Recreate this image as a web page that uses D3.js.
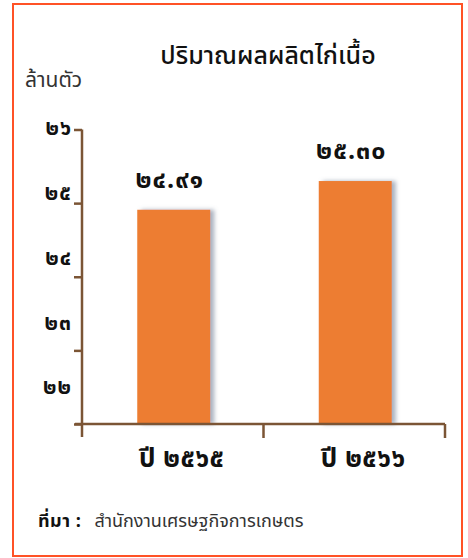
<!DOCTYPE html>
<html>
<head>
<meta charset="utf-8">
<script src="https://cdn.jsdelivr.net/npm/d3@7"></script>
<style>
  html, body { margin: 0; padding: 0; background: #fff; }
  svg { display: block; }
  text { font-family: "Noto Sans Thai", "Noto Sans", "DejaVu Sans", sans-serif; }
</style>
</head>
<body>
<script>
// ---- data ----
const categories = ["ปี ๒๕๖๕", "ปี ๒๕๖๖"];
const values = [24.91, 25.30];
const yTicks = [22, 23, 24, 25, 26];
const title = "ปริมาณผลผลิตไก่เนื้อ";
const yUnit = "ล้านตัว";
const sourceLabel = "ที่มา :";
const sourceText = "สำนักงานเศรษฐกิจการเกษตร";

const thaiDigits = "๐๑๒๓๔๕๖๗๘๙";
const toThai = s => String(s).replace(/[0-9]/g, d => thaiDigits[+d]);

const W = 468, H = 558;
const svg = d3.select("body").append("svg").attr("width", W).attr("height", H);

const defs = svg.append("defs");
const f = defs.append("filter").attr("id", "shadow").attr("x", "-20%").attr("y", "-20%").attr("width", "140%").attr("height", "140%");
f.append("feDropShadow").attr("dx", 4).attr("dy", 0).attr("stdDeviation", 2)
  .attr("flood-color", "#6f7f95").attr("flood-opacity", 0.6);

// frame
svg.append("rect").attr("x", 13).attr("y", 4).attr("width", 449).attr("height", 552)
  .attr("fill", "#fff").attr("stroke", "#ff5226").attr("stroke-width", 2);

// scales
const y = d3.scaleLinear().domain([22, 26]).range([424, 129.5]);
const yLab = d3.scaleLinear().domain([22, 26]).range([387, 128]);
const x = d3.scaleBand().domain(categories).range([82, 445]).paddingInner(0).paddingOuter(0);
const barW = 73;
const axisColor = "#7b5535";

// title
svg.append("text").attr("x", 268).attr("y", 64).attr("text-anchor", "middle")
  .attr("font-size", 25).attr("font-weight", 500).attr("fill", "#111").text(title);
svg.append("text").attr("x", 25).attr("y", 87)
  .attr("font-size", 21).attr("fill", "#333").text(yUnit);

// bars
svg.append("g").selectAll("rect").data(values).join("rect")
  .attr("x", (d, i) => x(categories[i]) + x.bandwidth() / 2 - barW / 2 + 1)
  .attr("y", d => y(d))
  .attr("width", barW)
  .attr("height", d => y(22) - y(d))
  .attr("fill", "#ed7d31")
  .attr("filter", "url(#shadow)");

// value labels
svg.append("g").selectAll("text").data(values).join("text")
  .attr("x", (d, i) => x(categories[i]) + x.bandwidth() / 2 - 3)
  .attr("y", d => y(d) - 22)
  .attr("text-anchor", "middle").attr("font-size", 25).attr("font-weight", 700)
  .attr("letter-spacing", 1).attr("fill", "#111")
  .text(d => toThai(d3.format(".2f")(d)));

// y axis
const yAxis = d3.axisLeft(y).tickValues(yTicks).tickSize(8).tickSizeOuter(0).tickFormat("");
const gy = svg.append("g").attr("transform", "translate(82,0)").call(yAxis);
gy.select(".domain").remove();
gy.selectAll(".tick line").attr("stroke", axisColor).attr("stroke-width", 2.5);
gy.append("line").attr("x1", 0).attr("x2", 0).attr("y1", y(26)).attr("y2", 437)
  .attr("stroke", axisColor).attr("stroke-width", 2.5);

// y tick labels
svg.append("g").selectAll("text").data(yTicks).join("text")
  .attr("x", 72).attr("y", d => yLab(d)).attr("dy", "0.35em")
  .attr("text-anchor", "end").attr("font-size", 21).attr("font-weight", 700)
  .attr("letter-spacing", 1).attr("fill", "#111")
  .text(d => toThai(d));

// x axis
const gx = svg.append("g");
gx.append("line").attr("x1", 75).attr("x2", x.range()[1]).attr("y1", y(22)).attr("y2", y(22))
  .attr("stroke", axisColor).attr("stroke-width", 2.5);
const bounds = categories.map(c => x(c)).concat([x(categories[categories.length - 1]) + x.bandwidth()]);
gx.selectAll("line.tk").data(bounds.slice(1)).join("line").attr("class", "tk")
  .attr("x1", d => d).attr("x2", d => d).attr("y1", y(22)).attr("y2", 438)
  .attr("stroke", axisColor).attr("stroke-width", 2.5);

// category labels
svg.append("g").selectAll("text").data(categories).join("text")
  .attr("x", c => x(c) + x.bandwidth() / 2 + 9)
  .attr("y", 467)
  .attr("text-anchor", "middle").attr("font-size", 26).attr("font-weight", 700)
  .attr("letter-spacing", 0.5).attr("fill", "#111")
  .text(c => c);

// source
const src = svg.append("text").attr("x", 38).attr("y", 527).attr("font-size", 18).attr("fill", "#111");
src.append("tspan").attr("font-weight", 700).attr("letter-spacing", 0.5).text(sourceLabel);
src.append("tspan").attr("dx", 13).attr("fill", "#333").text(sourceText);
</script>
</body>
</html>
